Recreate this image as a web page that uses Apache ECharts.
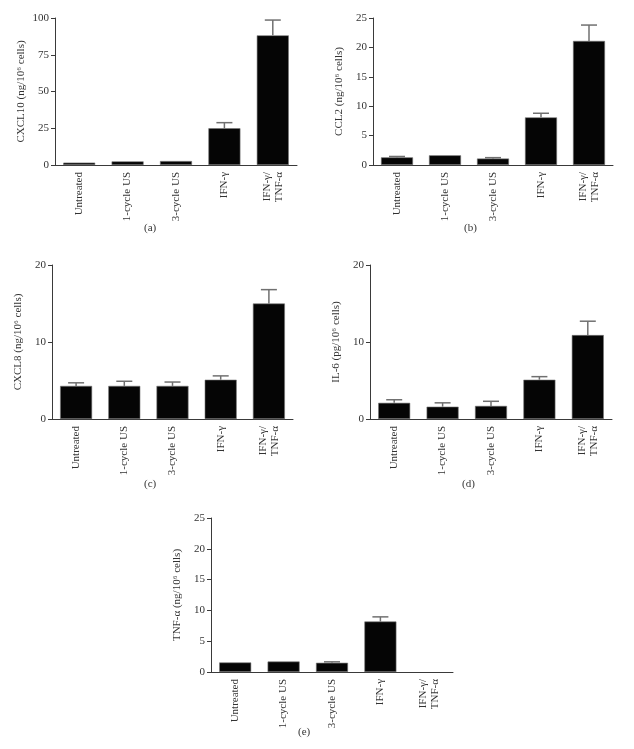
<!DOCTYPE html>
<html>
<head>
<meta charset="utf-8">
<script src="https://cdn.jsdelivr.net/npm/echarts@6/dist/echarts.min.js"></script>
<style>
  html, body { margin: 0; padding: 0; background: #fff; }
  #main { width: 634px; height: 749px; }
</style>
</head>
<body>
<div id="main"></div>
<script>
var categories = ['Untreated', '1-cycle US', '3-cycle US', 'IFN-γ', 'IFN-γ/\nTNF-α'];

// mean values and upper error (SEM) per panel, 0 = no visible bar
var cxcl10 = [1.6, 2.5, 2.7, 25, 88.2];
var cxcl10Err = [0, 0, 0, 3.8, 10.4];
var ccl2 = [1.3, 1.65, 1.1, 8.1, 21.1];
var ccl2Err = [0.15, 0, 0.15, 0.7, 2.7];
var cxcl8 = [4.3, 4.3, 4.3, 5.1, 15.0];
var cxcl8Err = [0.4, 0.6, 0.5, 0.5, 1.8];
var il6 = [2.1, 1.6, 1.7, 5.1, 10.9];
var il6Err = [0.4, 0.5, 0.6, 0.4, 1.8];
var tnfa = [1.55, 1.7, 1.5, 8.2, null];
var tnfaErr = [0, 0, 0.15, 0.75, null];

var yMax = [100, 25, 20, 20, 25];
var yStep = [25, 5, 10, 10, 5];
var yNames = [
    'CXCL10 (ng/10⁶ cells)',
    'CCL2 (ng/10⁶ cells)',
    'CXCL8 (ng/10⁶ cells)',
    'IL-6 (pg/10⁶ cells)',
    'TNF-α (ng/10⁶ cells)'
];
var panelLabels = ['(a)', '(b)', '(c)', '(d)', '(e)'];

var panels = [
    {vals: cxcl10, err: cxcl10Err},
    {vals: ccl2, err: ccl2Err},
    {vals: cxcl8, err: cxcl8Err},
    {vals: il6, err: il6Err},
    {vals: tnfa, err: tnfaErr}
];

// layout of each panel
var grids = [
    {left: 55, top: 18, width: 242, height: 147},
    {left: 373, top: 18, width: 240, height: 147},
    {left: 52, top: 265, width: 241, height: 154},
    {left: 370, top: 265, width: 242, height: 154},
    {left: 211, top: 518, width: 242, height: 154}
];
var labelPos = [[152, 230], [472, 230], [152, 486], [470, 486], [306, 734]];

var FONT = '"Liberation Serif", "DejaVu Serif", serif';
var axisColor = '#3a3a3a';

var chart = echarts.init(document.getElementById('main'));

var xAxes = [], yAxes = [], series = [], graphics = [];

panels.forEach(function (p, i) {
    xAxes.push({
        type: 'category',
        gridIndex: i,
        data: categories,
        axisLine: {lineStyle: {color: axisColor, width: 1}},
        axisTick: {show: false},
        axisLabel: {
            rotate: 90,
            margin: 7,
            fontFamily: FONT,
            fontSize: 11,
            color: '#333',
            lineHeight: 12
        }
    });
    yAxes.push({
        type: 'value',
        gridIndex: i,
        min: 0,
        max: yMax[i],
        interval: yStep[i],
        name: yNames[i],
        nameLocation: 'middle',
        nameGap: 28,
        nameTextStyle: {fontFamily: FONT, fontSize: 11, color: '#333'},
        splitLine: {show: false},
        axisLine: {show: true, lineStyle: {color: axisColor, width: 1}},
        axisTick: {show: true, length: 4, lineStyle: {color: axisColor}},
        axisLabel: {fontFamily: FONT, fontSize: 11, color: '#333', margin: 6}
    });
    series.push({
        type: 'bar',
        xAxisIndex: i,
        yAxisIndex: i,
        data: p.vals,
        barWidth: 32,
        itemStyle: {color: '#050505', borderColor: '#777', borderWidth: 0.6},
        silent: true
    });
    var errData = p.vals.map(function (v, k) {
        if (v == null || !p.err[k]) return [k, '-', '-'];
        return [k, v, v + p.err[k]];
    });
    series.push({
        type: 'custom',
        xAxisIndex: i,
        yAxisIndex: i,
        data: errData,
        z: 1,
        silent: true,
        renderItem: function (params, api) {
            var v = api.value(1), t = api.value(2);
            if (isNaN(v) || isNaN(t)) return;
            var base = api.coord([api.value(0), v]);
            var top = api.coord([api.value(0), t]);
            var half = 8;
            return {
                type: 'group',
                children: [
                    {type: 'line', shape: {x1: base[0], y1: base[1], x2: top[0], y2: top[1]},
                     style: {stroke: '#707070', lineWidth: 1.5}},
                    {type: 'line', shape: {x1: top[0] - half, y1: top[1], x2: top[0] + half, y2: top[1]},
                     style: {stroke: '#707070', lineWidth: 1.5}}
                ]
            };
        }
    });
    graphics.push({
        type: 'text',
        left: labelPos[i][0] - 8,
        top: labelPos[i][1] - 7,
        style: {text: panelLabels[i], font: '11px ' + FONT, fill: '#333'}
    });
});

chart.setOption({
    backgroundColor: '#fff',
    animation: false,
    grid: grids,
    xAxis: xAxes,
    yAxis: yAxes,
    series: series,
    graphic: graphics
});
</script>
</body>
</html>
